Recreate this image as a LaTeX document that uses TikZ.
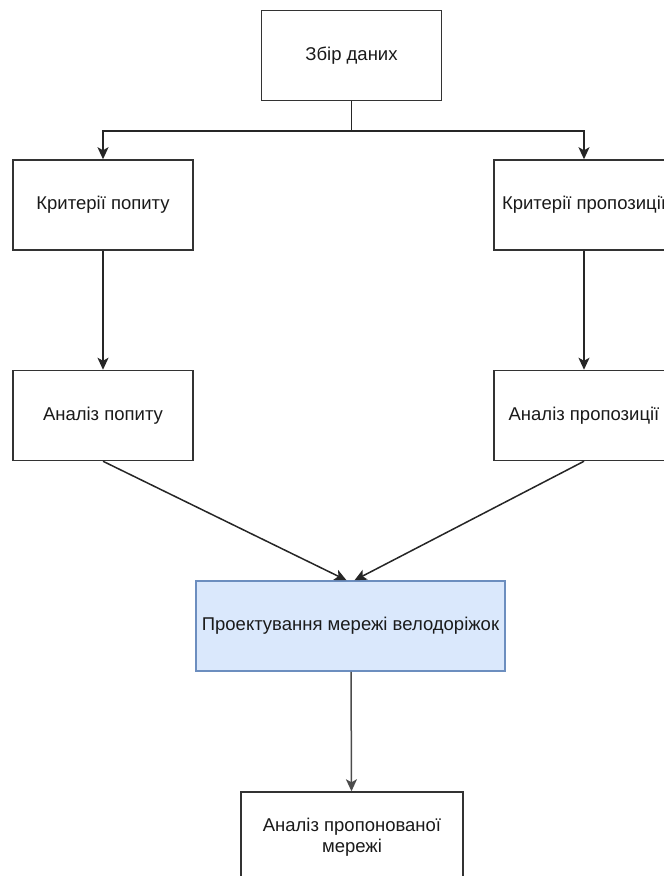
\documentclass[tikz,border=0pt]{standalone}
\usepackage{fontspec}
\setmainfont{Liberation Sans}
\usetikzlibrary{arrows.meta}
\definecolor{StepFill}{HTML}{DAE8FC}
\definecolor{StepLine}{HTML}{6C8EBF}
\definecolor{TextDark}{RGB}{26, 26, 26}

\tikzset{
    stepbox/.style={draw=black!80, line width=1.5pt, fill=white, minimum width=180pt, minimum height=90pt,
        inner sep=2pt, align=center, font=\fontsize{18.5}{22}\selectfont, text=TextDark},
    arr/.style={-{Stealth[length=12pt, width=11pt, inset=3pt]}, line width=1.5pt, draw=black!85}
}

\begin{document}
\begin{tikzpicture}[x=1pt, y=-1pt]

    % --- Page frame ---
    \useasboundingbox (0,0) rectangle (664,876);
    \clip (0,0) rectangle (664,876);

    % --- Steps ---
    \node[stepbox] (collect) at (351.5, 55.5) {Збір даних};
    \node[stepbox] (critDemand) at (103, 205) {Критерії попиту};
    \node[stepbox] (critOffer) at (584, 205) {Критерії пропозиції};
    \node[stepbox] (anDemand) at (103, 415.5) {Аналіз попиту};
    \node[stepbox] (anOffer) at (584, 415.5) {Аналіз пропозиції};
    \node[stepbox, fill=StepFill, draw=StepLine, minimum width=309pt] (design) at (350.5, 626) {Проектування мережі велодоріжок};
    \node[stepbox, minimum width=222pt] (result) at (352, 837) {Аналіз пропонованої\\[-1pt]мережі};

    % --- Connectors ---
    \coordinate (split) at (351.5, 131);
    \draw[line width=1.5pt, draw=black!85] (collect.south) -- (split);
    \draw[arr] (split) -| (critDemand.north);
    \draw[arr] (split) -| (critOffer.north);
    \draw[arr] (critDemand) -- (anDemand);
    \draw[arr] (critOffer) -- (anOffer);
    \draw[arr] (anDemand.south) -- ([xshift=-4pt]design.north);
    \draw[arr] (anOffer.south) -- ([xshift=4pt]design.north);
    \draw[arr, draw=black!70] ([xshift=0.5pt]design.south) -- ([xshift=-0.5pt]result.north);

\end{tikzpicture}
\end{document}
